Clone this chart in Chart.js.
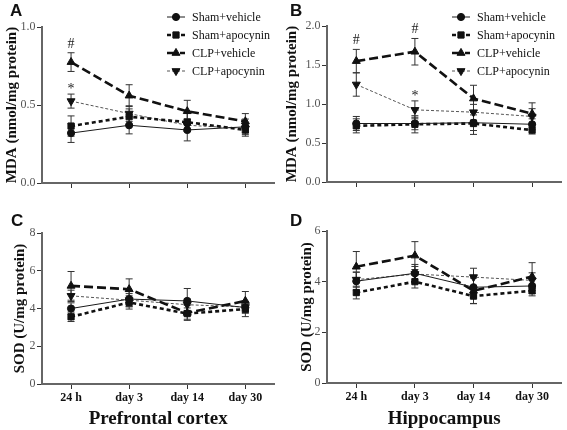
<!DOCTYPE html>
<html>
<head>
<meta charset="utf-8">
<title>MDA / SOD</title>
<script src="https://cdn.jsdelivr.net/npm/chart.js@4.4.0/dist/chart.umd.min.js"></script>
<style>
  body { margin: 0; background: #fff; }
  #fig { position: relative; width: 567px; height: 430px; overflow: hidden; }
  .panel { position: absolute; }
  .tag { position: absolute; font: bold 17px 'Liberation Sans', Arial, sans-serif; color: #111; line-height: 17px; }
</style>
</head>
<body>
<div id="fig">
  <canvas id="panelA" class="panel" width="280" height="200" style="left:0;top:0"></canvas>
  <canvas id="panelB" class="panel" width="287" height="200" style="left:280px;top:0"></canvas>
  <canvas id="panelC" class="panel" width="280" height="230" style="left:0;top:200px"></canvas>
  <canvas id="panelD" class="panel" width="287" height="230" style="left:280px;top:200px"></canvas>
  <div class="tag" style="left:10px;top:2px">A</div>
  <div class="tag" style="left:290px;top:2px">B</div>
  <div class="tag" style="left:11px;top:212px">C</div>
  <div class="tag" style="left:290px;top:212px">D</div>
</div>
<script>
const timePoints = ['24 h', 'day 3', 'day 14', 'day 30'];
const groups = ['Sham+vehicle', 'Sham+apocynin', 'CLP+vehicle', 'CLP+apocynin'];

// A: MDA, prefrontal cortex (one row per group)
const mdaCortex = [
    [0.32, 0.37, 0.34, 0.36],
    [0.365, 0.425, 0.39, 0.34],
    [0.775, 0.56, 0.46, 0.395],
    [0.525, 0.445, 0.37, 0.35]
];
const mdaCortexErr = [
    [0.06, 0.055, 0.07, 0.05],
    [0.065, 0.05, 0.06, 0.04],
    [0.06, 0.07, 0.07, 0.05],
    [0.045, 0.05, 0.04, 0.03]
];
const mdaCortexSig = [['', '', '', ''], ['', '', '', ''], ['#', '', '', ''], ['*', '', '', '']];

// B: MDA, hippocampus
const mdaHippo = [
    [0.75, 0.75, 0.76, 0.74],
    [0.72, 0.74, 0.75, 0.665],
    [1.55, 1.67, 1.07, 0.875],
    [1.25, 0.925, 0.895, 0.84]
];
const mdaHippoErr = [
    [0.09, 0.08, 0.1, 0.07],
    [0.09, 0.11, 0.14, 0.05],
    [0.15, 0.17, 0.17, 0.14],
    [0.15, 0.115, 0.1, 0.1]
];
const mdaHippoSig = [['', '', '', ''], ['', '', '', ''], ['#', '#', '', ''], ['', '*', '', '']];

// C: SOD, prefrontal cortex
const sodCortex = [
    [4.0, 4.5, 4.4, 4.05],
    [3.56, 4.32, 3.73, 3.97],
    [5.2, 5.02, 3.77, 4.4],
    [4.67, 4.44, 4.2, 4.08]
];
const sodCortexErr = [
    [0.3, 0.4, 0.66, 0.3],
    [0.25, 0.35, 0.3, 0.4],
    [0.76, 0.55, 0.4, 0.5],
    [0.3, 0.35, 0.3, 0.3]
];

// D: SOD, hippocampus
const sodHippo = [
    [4.02, 4.33, 3.78, 3.83],
    [3.57, 4.0, 3.43, 3.64],
    [4.59, 5.03, 3.64, 4.2],
    [4.08, 4.3, 4.18, 4.05]
];
const sodHippoErr = [
    [0.35, 0.35, 0.4, 0.3],
    [0.25, 0.25, 0.3, 0.2],
    [0.6, 0.55, 0.5, 0.55],
    [0.3, 0.3, 0.35, 0.3]
];

const mdaCortexTicks = [0, 0.5, 1.0];
const mdaHippoTicks = [0, 0.5, 1.0, 1.5, 2.0];
const sodCortexTicks = [0, 2, 4, 6, 8];
const sodHippoTicks = [0, 2, 4, 6];

const SERIF = "'Liberation Serif', 'Times New Roman', serif";

// line look per group
const groupStyles = [
    { color: '#1a1a1a', width: 1, dash: [], point: 'circle', radius: 3.6, rotation: 0 },
    { color: '#111111', width: 2.6, dash: [4, 3], point: 'rect', radius: 4.4, rotation: 0 },
    { color: '#111111', width: 2.6, dash: [9, 4], point: 'triangle', radius: 4.6, rotation: 0 },
    { color: '#555555', width: 1, dash: [3, 2], point: 'triangle', radius: 4.6, rotation: 180 }
];

// error bars + significance marks, drawn through the y scale
const errorBars = {
    id: 'errorBars',
    beforeDatasetsDraw(chart) {
        const ctx = chart.ctx;
        const yScale = chart.scales.y;
        chart.data.datasets.forEach((ds, i) => {
            const meta = chart.getDatasetMeta(i);
            meta.data.forEach((pt, j) => {
                const v = ds.data[j];
                const e = ds.errors[j];
                const top = yScale.getPixelForValue(v + e);
                const bot = yScale.getPixelForValue(v - e);
                ctx.save();
                ctx.strokeStyle = '#333';
                ctx.lineWidth = 1;
                ctx.beginPath();
                ctx.moveTo(pt.x, top); ctx.lineTo(pt.x, bot);
                ctx.moveTo(pt.x - 3.5, top); ctx.lineTo(pt.x + 3.5, top);
                ctx.moveTo(pt.x - 3.5, bot); ctx.lineTo(pt.x + 3.5, bot);
                ctx.stroke();
                if (ds.sig && ds.sig[j]) {
                    const mark = ds.sig[j];
                    ctx.fillStyle = '#222';
                    ctx.font = '14px ' + SERIF;
                    ctx.textAlign = 'center';
                    ctx.textBaseline = 'alphabetic';
                    ctx.fillText(mark, pt.x, top - (mark === '#' ? 5 : 1));
                }
                ctx.restore();
            });
        });
    }
};

// legend with a short line sample and marker, like the original figure
const sampleLegend = {
    id: 'sampleLegend',
    afterDraw(chart, args, opts) {
        if (!opts || !opts.show) return;
        const ctx = chart.ctx;
        chart.data.datasets.forEach((ds, i) => {
            const y = opts.y + i * opts.step;
            ctx.save();
            ctx.strokeStyle = ds.borderColor;
            ctx.lineWidth = ds.borderWidth;
            ctx.setLineDash(ds.borderDash);
            ctx.beginPath();
            ctx.moveTo(opts.x, y);
            ctx.lineTo(opts.x + 18, y);
            ctx.stroke();
            ctx.setLineDash([]);
            ctx.fillStyle = ds.pointBackgroundColor;
            ctx.strokeStyle = ds.pointBorderColor;
            ctx.lineWidth = 1;
            Chart.helpers.drawPoint(ctx, {
                pointStyle: ds.pointStyle,
                rotation: ds.pointRotation,
                radius: ds.pointRadius,
                borderWidth: 1
            }, opts.x + 9, y);
            ctx.fillStyle = '#111';
            ctx.font = '12px ' + SERIF;
            ctx.textAlign = 'left';
            ctx.textBaseline = 'middle';
            ctx.fillText(ds.label, opts.x + 25, y + 0.5);
            ctx.restore();
        });
    }
};

function makePanel(id, cfg) {
    const datasets = groups.map((g, i) => {
        const s = groupStyles[i];
        return {
            label: g,
            data: cfg.mean[i],
            errors: cfg.err[i],
            sig: cfg.sig ? cfg.sig[i] : null,
            borderColor: s.color,
            borderWidth: s.width,
            borderDash: s.dash,
            pointStyle: s.point,
            pointRadius: s.radius,
            pointRotation: s.rotation,
            pointBackgroundColor: '#111',
            pointBorderColor: '#111',
            pointBorderWidth: 1,
            tension: 0,
            fill: false
        };
    });

    new Chart(document.getElementById(id), {
        type: 'line',
        data: { labels: timePoints, datasets: datasets },
        plugins: [errorBars, sampleLegend],
        options: {
            responsive: false,
            animation: false,
            events: [],
            layout: { padding: { top: cfg.padTop, right: cfg.padRight, left: 0, bottom: 0 } },
            plugins: {
                legend: { display: false },
                tooltip: { enabled: false },
                sampleLegend: cfg.legend || { show: false }
            },
            scales: {
                x: {
                    type: 'category',
                    offset: true,
                    grid: { drawOnChartArea: false, drawTicks: true, tickLength: 5, color: '#333', lineWidth: 1 },
                    border: { display: true, color: '#666', width: 2 },
                    ticks: {
                        display: cfg.showX,
                        maxRotation: 0,
                        padding: 2,
                        color: '#111',
                        font: { family: SERIF, size: 12, weight: 'bold' }
                    },
                    title: {
                        display: !!cfg.xTitle,
                        text: cfg.xTitle || '',
                        color: '#111',
                        padding: { top: 0, bottom: 0 },
                        font: { family: SERIF, size: 19, weight: 'bold' }
                    },
                    afterFit(scale) { scale.height = cfg.xHeight; }
                },
                y: {
                    min: cfg.ticks[0],
                    max: cfg.ticks[cfg.ticks.length - 1],
                    afterBuildTicks(scale) { scale.ticks = cfg.ticks.map(v => ({ value: v })); },
                    grid: { drawOnChartArea: false, drawTicks: true, tickLength: 5, color: '#333', lineWidth: 1 },
                    border: { display: true, color: '#666', width: 2 },
                    ticks: {
                        padding: 1.5,
                        color: '#555',
                        font: { family: SERIF, size: 12 },
                        callback: v => cfg.decimals ? Number(v).toFixed(cfg.decimals) : String(v)
                    },
                    title: {
                        display: true,
                        text: cfg.yTitle,
                        color: '#111',
                        padding: { top: cfg.yTitlePad, bottom: 0 },
                        font: { family: SERIF, size: 15, weight: 'bold' }
                    },
                    afterFit(scale) { scale.width = cfg.yWidth; }
                }
            }
        }
    });
}

makePanel('panelA', {
    mean: mdaCortex, err: mdaCortexErr, sig: mdaCortexSig, ticks: mdaCortexTicks, decimals: 1,
    yTitle: 'MDA (nmol/mg protein)', yTitlePad: 3, yWidth: 42,
    padTop: 27, padRight: 2, showX: false, xHeight: 17,
    legend: { show: true, x: 167, y: 17, step: 18 }
});
makePanel('panelB', {
    mean: mdaHippo, err: mdaHippoErr, sig: mdaHippoSig, ticks: mdaHippoTicks, decimals: 1,
    yTitle: 'MDA (nmol/mg protein)', yTitlePad: 3, yWidth: 47,
    padTop: 26, padRight: 2, showX: false, xHeight: 18,
    legend: { show: true, x: 172, y: 17, step: 18 }
});
makePanel('panelC', {
    mean: sodCortex, err: sodCortexErr, ticks: sodCortexTicks, decimals: 0,
    yTitle: 'SOD (U/mg protein)', yTitlePad: 11, yWidth: 42,
    padTop: 33, padRight: 0, showX: true, xHeight: 46, xTitle: 'Prefrontal cortex'
});
makePanel('panelD', {
    mean: sodHippo, err: sodHippoErr, ticks: sodHippoTicks, decimals: 0,
    yTitle: 'SOD (U/mg protein)', yTitlePad: 18, yWidth: 47,
    padTop: 31, padRight: 4, showX: true, xHeight: 47, xTitle: 'Hippocampus'
});
</script>
</body>
</html>
